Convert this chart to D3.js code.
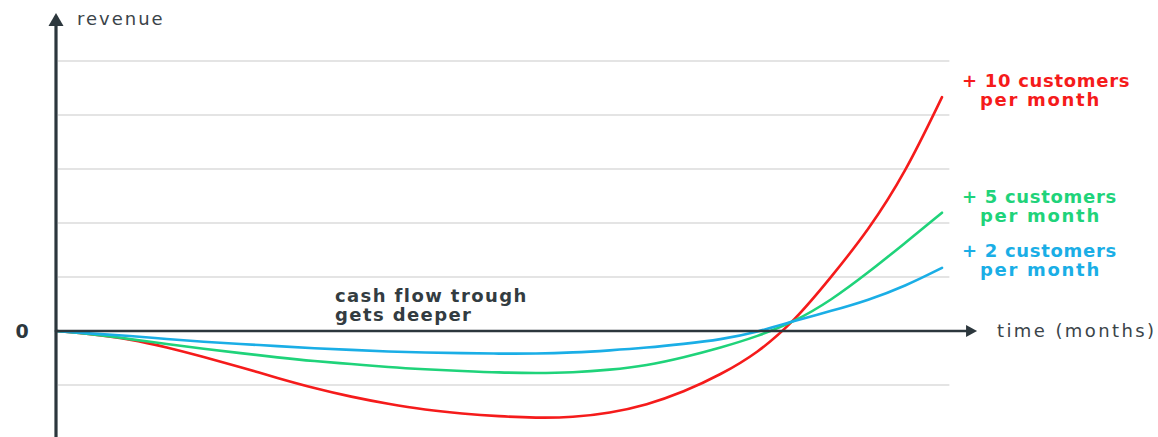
<!DOCTYPE html>
<html>
<head>
<meta charset="utf-8">
<script src="https://cdn.jsdelivr.net/npm/d3@7"></script>
<style>
  html, body { margin: 0; padding: 0; background: #fff; }
  svg { display: block; }
  text { font-family: "DejaVu Sans", sans-serif; }
</style>
</head>
<body>
<svg id="chart" width="1158" height="437"></svg>
<script>
// months since launch
const months = d3.range(0, 25);

// cumulative cash flow (in grid units) for each acquisition rate
const revenue10 = [0, -0.06, -0.15, -0.30, -0.48, -0.67, -0.87, -1.06, -1.22, -1.35, -1.46, -1.53, -1.58,
                   -1.61, -1.60, -1.52, -1.37, -1.13, -0.81, -0.41, 0.18, 1.00, 1.86, 2.92, 4.33];
const revenue5  = [0, -0.06, -0.15, -0.24, -0.33, -0.41, -0.49, -0.56, -0.61, -0.67, -0.71, -0.74, -0.77,
                   -0.78, -0.77, -0.72, -0.64, -0.49, -0.31, -0.10, 0.17, 0.57, 1.08, 1.63, 2.19];
const revenue2  = [0, -0.05, -0.09, -0.15, -0.20, -0.24, -0.28, -0.32, -0.35, -0.38, -0.40, -0.41, -0.42,
                   -0.42, -0.40, -0.36, -0.31, -0.24, -0.16, -0.02, 0.19, 0.37, 0.57, 0.83, 1.17];

const seriesLabels = [
  ["+ 10 customers", "per month"],
  ["+ 5 customers", "per month"],
  ["+ 2 customers", "per month"]
];
const gridValues = [-1, 1, 2, 3, 4, 5];
const zeroLabel = "0";

const series = [
  { values: revenue10, color: "#f51b1b", label: seriesLabels[0] },
  { values: revenue5,  color: "#1fd37a", label: seriesLabels[1] },
  { values: revenue2,  color: "#1aaee6", label: seriesLabels[2] }
];

const svg = d3.select("#chart");
const axisColor = "#2c373d";
const textColor = "#3b4449";

const x = d3.scaleLinear().domain([0, 24]).range([56, 942]);
const y = d3.scaleLinear().domain([-2, 6]).range([439, 7]);

// horizontal guide lines
svg.append("g").selectAll("line")
  .data(gridValues)
  .join("line")
  .attr("x1", x(0) + 2)
  .attr("x2", x(24.2))
  .attr("y1", d => y(d))
  .attr("y2", d => y(d))
  .attr("stroke", "#e4e4e4")
  .attr("stroke-width", 2);

// revenue curves, smoothed through the monthly values
const line = d3.line()
  .x((d, i) => x(months[i]))
  .y(d => y(d))
  .curve(d3.curveBasis);

svg.append("g").selectAll("path")
  .data(series)
  .join("path")
  .attr("d", d => line(d.values))
  .attr("fill", "none")
  .attr("stroke", d => d.color)
  .attr("stroke-width", 2.6)
  .attr("stroke-linecap", "round");

// time axis with arrow head
const xEnd = x(24.95);
svg.append("line")
  .attr("x1", x(0)).attr("x2", xEnd - 8)
  .attr("y1", y(0)).attr("y2", y(0))
  .attr("stroke", axisColor).attr("stroke-width", 2.6);
svg.append("path")
  .attr("d", `M${xEnd},${y(0)} L${xEnd - 11},${y(0) - 6} L${xEnd - 11},${y(0) + 6} Z`)
  .attr("fill", axisColor);

// revenue axis with arrow head
const yTop = 13;
svg.append("line")
  .attr("x1", x(0)).attr("x2", x(0))
  .attr("y1", 437).attr("y2", yTop + 10)
  .attr("stroke", axisColor).attr("stroke-width", 3.2);
svg.append("path")
  .attr("d", `M${x(0)},${yTop} L${x(0) - 7.5},${yTop + 13} L${x(0) + 7.5},${yTop + 13} Z`)
  .attr("fill", axisColor);

// axis titles
svg.append("text")
  .attr("x", 77).attr("y", 25)
  .attr("font-size", 18).attr("fill", textColor)
  .attr("letter-spacing", 2)
  .text("revenue");

svg.append("text")
  .attr("x", 997).attr("y", y(0) + 6)
  .attr("font-size", 18).attr("fill", textColor)
  .attr("letter-spacing", 2.4)
  .text("time (months)");

svg.append("text")
  .attr("x", 22).attr("y", y(0) + 7)
  .attr("text-anchor", "middle")
  .attr("font-size", 19).attr("font-weight", "bold").attr("fill", axisColor)
  .text(zeroLabel);

// annotation
const note = svg.append("text")
  .attr("font-size", 18).attr("font-weight", "bold").attr("fill", "#333c41")
  .attr("letter-spacing", 1.4);
note.append("tspan").attr("x", 335).attr("y", 302).text("cash flow trough");
note.append("tspan").attr("x", 335).attr("y", 321).text("gets deeper");

// series labels beside curve ends
const labelTops = [87, 203, 257];
series.forEach((s, i) => {
  const t = svg.append("text")
    .attr("font-size", 18).attr("font-weight", 600)
    .attr("fill", s.color)
    .attr("letter-spacing", 0.7);
  t.append("tspan").attr("x", 962).attr("y", labelTops[i]).text(s.label[0]);
  t.append("tspan").attr("x", 980).attr("y", labelTops[i] + 19).text(s.label[1]).attr("letter-spacing", 1.7);
});
</script>
</body>
</html>
